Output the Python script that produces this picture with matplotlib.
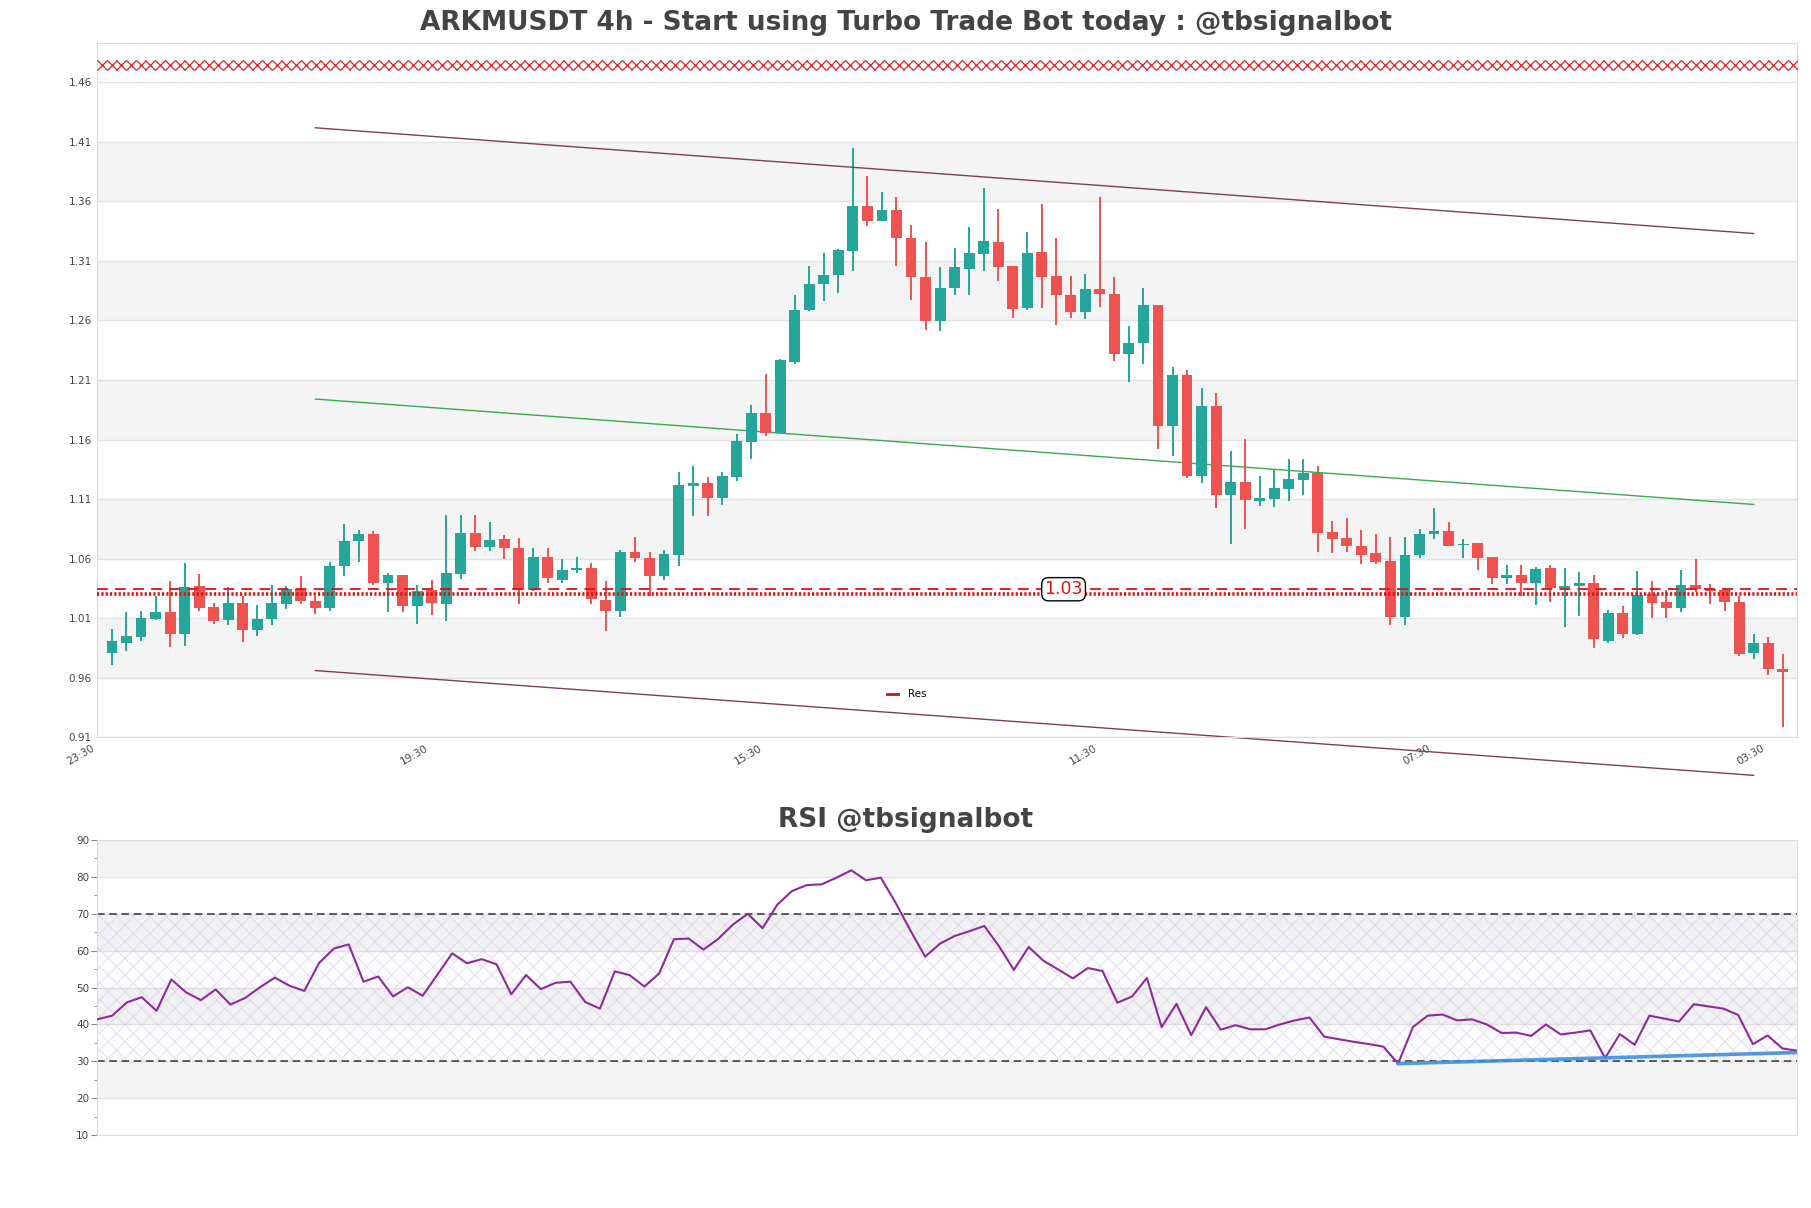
import numpy as np
import matplotlib
matplotlib.use("Agg")
import matplotlib.pyplot as plt
import matplotlib.transforms as mtransforms
from matplotlib.lines import Line2D

plt.rcParams["hatch.linewidth"] = 0.6

# ---------------- data ----------------
opens = [0.9806, 0.9895, 0.9941, 1.0096, 1.0150, 0.9969, 1.0370, 1.0192, 1.0088, 1.0227,
         1.0003, 1.0092, 1.0223, 1.0343, 1.0243, 1.0189, 1.0536, 1.0744, 1.0806, 1.0397,
         1.0463, 1.0204, 1.0339, 1.0223, 1.0474, 1.0814, 1.0694, 1.0764, 1.0690, 1.0335,
         1.0613, 1.0424, 1.0505, 1.0520, 1.0250, 1.0162, 1.0656, 1.0605, 1.0451, 1.0629,
         1.1208, 1.1235, 1.1111, 1.1285, 1.1582, 1.1825, 1.1659, 1.2250, 1.2690, 1.2910,
         1.2979, 1.3184, 1.3562, 1.3439, 1.3524, 1.3296, 1.2964, 1.2593, 1.2875, 1.3034,
         1.3161, 1.3257, 1.3057, 1.2706, 1.3176, 1.2972, 1.2817, 1.2675, 1.2868, 1.2825,
         1.2319, 1.2408, 1.2732, 1.1717, 1.2142, 1.1293, 1.1883, 1.1138, 1.1242, 1.1088,
         1.1100, 1.1188, 1.1258, 1.1320, 1.0825, 1.0775, 1.0706, 1.0648, 1.0583, 1.0111,
         1.0634, 1.0805, 1.0833, 1.0713, 1.0729, 1.0615, 1.0440, 1.0460, 1.0397, 1.0523,
         1.0357, 1.0369, 1.0393, 0.9909, 1.0143, 0.9968, 1.0301, 1.0234, 1.0186, 1.0377,
         1.0345, 1.0333, 1.0238, 0.9810, 0.9893, 0.9671]
highs = [1.0007, 1.0150, 1.0158, 1.0289, 1.0412, 1.0563, 1.0470, 1.0227, 1.0362, 1.0289,
         1.0212, 1.0378, 1.0370, 1.0451, 1.0289, 1.0570, 1.0887, 1.0841, 1.0829, 1.0478,
         1.0463, 1.0382, 1.0424, 1.0968, 1.0968, 1.0968, 1.0906, 1.0798, 1.0771, 1.0690,
         1.0690, 1.0598, 1.0617, 1.0567, 1.0412, 1.0675, 1.0783, 1.0656, 1.0675, 1.1331,
         1.1377, 1.1285, 1.1331, 1.1648, 1.1887, 1.2150, 1.2280, 1.2810, 1.3060, 1.3169,
         1.3200, 1.4048, 1.3817, 1.3678, 1.3640, 1.3404, 1.3261, 1.3053, 1.3211, 1.3385,
         1.3713, 1.3540, 1.3057, 1.3346, 1.3578, 1.3296, 1.2976, 1.2991, 1.3639, 1.2964,
         1.2555, 1.2875, 1.2732, 1.2211, 1.2180, 1.2037, 1.1991, 1.1505, 1.1601, 1.1292,
         1.1350, 1.1439, 1.1439, 1.1377, 1.0914, 1.0945, 1.0837, 1.0806, 1.0785, 1.0785,
         1.0845, 1.1023, 1.0904, 1.0765, 1.0729, 1.0615, 1.0547, 1.0547, 1.0528, 1.0547,
         1.0523, 1.0484, 1.0464, 1.0167, 1.0206, 1.0492, 1.0408, 1.0333, 1.0508, 1.0595,
         1.0389, 1.0349, 1.0286, 0.9968, 0.9941, 0.9802]
lows = [0.9710, 0.9826, 0.9910, 1.0088, 0.9857, 0.9864, 1.0162, 1.0050, 1.0042, 0.9900,
        0.9949, 1.0042, 1.0180, 1.0220, 1.0134, 1.0162, 1.0451, 1.0575, 1.0378, 1.0154,
        1.0154, 1.0050, 1.0123, 1.0073, 1.0432, 1.0660, 1.0663, 1.0598, 1.0219, 1.0327,
        1.0397, 1.0397, 1.0482, 1.0219, 0.9988, 1.0111, 1.0570, 1.0289, 1.0420, 1.0536,
        1.0960, 1.0960, 1.1053, 1.1254, 1.1439, 1.1632, 1.1655, 1.2234, 1.2680, 1.2767,
        1.2829, 1.3018, 1.3396, 1.3439, 1.3060, 1.2775, 1.2516, 1.2508, 1.2814, 1.2817,
        1.3018, 1.2933, 1.2624, 1.2690, 1.2706, 1.2562, 1.2624, 1.2613, 1.2709, 1.2257,
        1.2080, 1.2234, 1.1524, 1.1466, 1.1273, 1.1231, 1.1022, 1.0725, 1.0852, 1.1042,
        1.1034, 1.1080, 1.1138, 1.0656, 1.0644, 1.0656, 1.0559, 1.0559, 1.0040, 1.0040,
        1.0603, 1.0761, 1.0702, 1.0607, 1.0508, 1.0389, 1.0389, 1.0286, 1.0210, 1.0238,
        1.0028, 1.0119, 0.9850, 0.9889, 0.9937, 0.9960, 1.0100, 1.0099, 1.0150, 1.0317,
        1.0218, 1.0159, 0.9782, 0.9754, 0.9623, 0.9187]
closes = [0.9911, 0.9949, 1.0100, 1.0150, 0.9969, 1.0362, 1.0189, 1.0080, 1.0227, 1.0003,
          1.0092, 1.0227, 1.0343, 1.0243, 1.0189, 1.0536, 1.0748, 1.0806, 1.0397, 1.0463,
          1.0204, 1.0327, 1.0231, 1.0478, 1.0814, 1.0694, 1.0756, 1.0686, 1.0335, 1.0613,
          1.0436, 1.0505, 1.0520, 1.0258, 1.0162, 1.0656, 1.0605, 1.0451, 1.0636, 1.1219,
          1.1235, 1.1111, 1.1293, 1.1590, 1.1825, 1.1659, 1.2269, 1.2690, 1.2910, 1.2983,
          1.3195, 1.3562, 1.3439, 1.3524, 1.3292, 1.2964, 1.2593, 1.2875, 1.3053, 1.3165,
          1.3265, 1.3050, 1.2698, 1.3169, 1.2968, 1.2810, 1.2675, 1.2868, 1.2821, 1.2319,
          1.2408, 1.2732, 1.1717, 1.2142, 1.1293, 1.1883, 1.1138, 1.1242, 1.1096, 1.1111,
          1.1196, 1.1265, 1.1323, 1.0818, 1.0768, 1.0702, 1.0629, 1.0571, 1.0111, 1.0634,
          1.0805, 1.0829, 1.0710, 1.0721, 1.0607, 1.0440, 1.0460, 1.0397, 1.0516, 1.0357,
          1.0373, 1.0393, 0.9921, 1.0143, 0.9968, 1.0293, 1.0230, 1.0186, 1.0377, 1.0345,
          1.0325, 1.0238, 0.9802, 0.9893, 0.9671, 0.9646]

rsi = [41.4, 42.4, 46.0, 47.4, 43.7, 52.2, 48.7, 46.6, 49.5, 45.4,
       47.2, 50.1, 52.7, 50.5, 49.1, 56.7, 60.6, 61.7, 51.6, 53.0,
       47.6, 50.1, 47.8, 53.5, 59.3, 56.6, 57.7, 56.3, 48.2, 53.4,
       49.6, 51.3, 51.6, 46.1, 44.3, 54.4, 53.4, 50.3, 53.8, 63.1,
       63.3, 60.3, 63.2, 67.1, 70.0, 66.1, 72.5, 76.2, 77.8, 78.0,
       79.8, 81.8, 79.1, 79.8, 73.0, 65.5, 58.4, 61.9, 64.0, 65.3,
       66.7, 61.2, 54.8, 61.0, 57.3, 54.9, 52.5, 55.3, 54.5, 45.9,
       47.6, 52.6, 39.3, 45.6, 37.1, 44.7, 38.6, 39.8, 38.7, 38.7,
       40.0, 41.1, 41.9, 36.7, 36.0, 35.3, 34.7, 34.0, 29.4, 39.3,
       42.4, 42.7, 41.1, 41.4, 40.0, 37.7, 37.8, 36.9, 40.0, 37.3,
       37.8, 38.4, 30.9, 37.4, 34.5, 42.4, 41.6, 40.8, 45.5, 44.9,
       44.3, 42.6, 34.7, 37.0, 33.5, 32.9]

tick_idx = [0, 23, 46, 69, 92, 115]
tick_labels = ["23:30", "19:30", "15:30", "11:30", "07:30", "03:30"]
price_ticks = [0.91, 0.96, 1.01, 1.06, 1.11, 1.16, 1.21, 1.26, 1.31, 1.36, 1.41, 1.46]
rsi_ticks = [10, 20, 30, 40, 50, 60, 70, 80, 90]

# channel lines (start index, end index, start value, end value)
chan_x = [14, 113]
chan_upper = [1.4218, 1.3330]
chan_mid = [1.1940, 1.1055]
chan_lower = [0.9660, 0.8780]

res_level = 1.0343
res_dotted = 1.0306
res_label = "1.03"
top_level = 1.4746

div_x = [88, 115]
div_y = [29.4, 32.4]

# ---------------- figure ----------------
fig = plt.figure(figsize=(18.11, 12.08), dpi=100)
ax1 = fig.add_axes([0.0538, 0.3897, 0.9386, 0.5745])
ax2 = fig.add_axes([0.0538, 0.0603, 0.9386, 0.2443])

n = len(closes)
x = np.arange(n)
up_col = "#26a69a"
dn_col = "#ef5350"
band_col = "#f4f4f4"
grid_col = "#e2e2e2"
spine_col = "#dcdcdc"

# ---- main axes ----
ax1.set_xlim(-1, n)
ax1.set_ylim(0.91, 1.4928)
for k in range(len(price_ticks) - 1):
    if k % 2 == 1:
        ax1.axhspan(price_ticks[k], price_ticks[k + 1], color=band_col, zorder=0, lw=0)
for t in price_ticks:
    ax1.axhline(t, color=grid_col, lw=1.0, zorder=0.5)

o = np.array(opens); c = np.array(closes); h = np.array(highs); l = np.array(lows)
cols = [up_col if cc >= oo else dn_col for oo, cc in zip(o, c)]
ax1.vlines(x, l, h, colors=cols, lw=1.4, zorder=2)
bottoms = np.minimum(o, c)
heights = np.maximum(np.abs(c - o), 0.0012)
ax1.bar(x, heights, bottom=bottoms, width=0.75, color=cols, zorder=3, lw=0)

ax1.plot(chan_x, chan_upper, color="#7e3d5c", lw=1.0, zorder=2.5)
ax1.plot(chan_x, chan_mid, color="#3aaa4a", lw=1.0, zorder=2.5)
ax1.plot(chan_x, chan_lower, color="#7e3d5c", lw=1.0, zorder=2.5, clip_on=False)

ax1.axhline(res_level, color="#dd1111", lw=1.3, ls=(0, (6, 4)), zorder=4)
ax1.axhline(res_dotted, color="#dd1111", lw=2.6, ls=(0, (0.6, 0.6)), zorder=4)
ax1.text(65.5, res_level, res_label, color="#ee1111", fontsize=12.5, ha="center", va="center",
         zorder=6, bbox=dict(boxstyle="round,pad=0.15,rounding_size=0.4", fc="white", ec="black", lw=1.0))

xm = np.linspace(-0.7, n - 0.3, 175)
ax1.plot(xm, np.full_like(xm, top_level), ls="none", marker="x", ms=6.5, mew=0.9,
         color="#dd2222", zorder=4)

leg = ax1.legend([Line2D([0], [0], color="#cc1111", lw=2)], ["Res"], loc="center",
                 bbox_to_anchor=(0.476, 0.062), frameon=False, fontsize=7.5,
                 handlelength=1.1, handletextpad=0.9)

ax1.set_yticks(price_ticks)
ax1.set_yticklabels([f"{t:.2f}" for t in price_ticks])
ax1.set_xticks(tick_idx)
ax1.set_xticklabels(tick_labels, rotation=30, ha="right")
ax1.tick_params(axis="both", length=0, labelsize=7.5, labelcolor="#444444", pad=4)
offset = mtransforms.ScaledTranslation(-0.16, 0, fig.dpi_scale_trans)
for lab in ax1.get_xticklabels():
    lab.set_transform(lab.get_transform() + offset)
for sp in ax1.spines.values():
    sp.set_color(spine_col)

# ---- RSI axes ----
ax2.set_xlim(0, n - 1)
ax2.set_ylim(10, 90)
for k in range(len(rsi_ticks) - 1):
    if k % 2 == 1:
        ax2.axhspan(rsi_ticks[k], rsi_ticks[k + 1], color=band_col, zorder=0, lw=0)
for t in rsi_ticks:
    ax2.axhline(t, color=grid_col, lw=1.0, zorder=0.5)
ax2.fill_between([0, n - 1], 30, 70, facecolor=(0.55, 0.2, 0.6, 0.02),
                 edgecolor=(0.80, 0.76, 0.85, 0.5), hatch="xx", lw=0, zorder=1)
ax2.axhline(70, color="#333333", lw=1.1, ls=(0, (5, 3)), zorder=2)
ax2.axhline(30, color="#333333", lw=1.1, ls=(0, (5, 3)), zorder=2)
ax2.plot(x, rsi, color="#8e2a9a", lw=1.5, zorder=3)
ax2.plot(div_x, div_y, color="#3d8fe0", lw=2.6, alpha=0.9, zorder=4)
ax2.set_yticks(rsi_ticks)
ax2.set_yticks(np.arange(15, 90, 10), minor=True)
ax2.set_xticks([])
ax2.tick_params(axis="y", which="major", length=4, color="#888888", labelsize=7.5,
                labelcolor="#444444", pad=2)
ax2.tick_params(axis="y", which="minor", length=2.5, color="#888888")
for sp in ax2.spines.values():
    sp.set_color(spine_col)

fig.text(0.5, 0.981, "ARKMUSDT 4h - Start using Turbo Trade Bot today : @tbsignalbot",
         ha="center", va="center", fontsize=19, fontweight="bold", color="#444444")
fig.text(0.5, 0.321, "RSI @tbsignalbot", ha="center", va="center", fontsize=19,
         fontweight="bold", color="#444444")

fig.savefig("out.png", dpi=100)
